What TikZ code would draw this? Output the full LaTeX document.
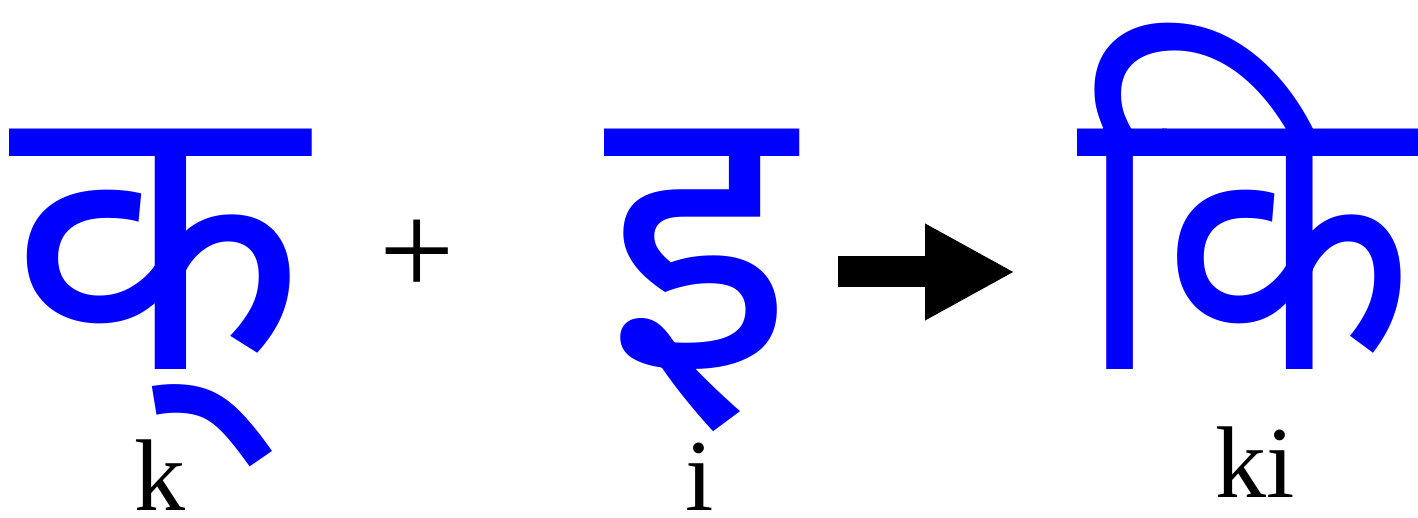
\documentclass[tikz,border=0pt]{standalone}
\usepackage{fontspec}
\setmainfont{Liberation Serif}
\newfontfamily\devafont[Script=Devanagari]{Noto Sans}
\usetikzlibrary{arrows.meta}

\begin{document}
\begin{tikzpicture}[
    deva/.style={text=blue, inner sep=0pt, anchor=base, text depth=0pt,
                 font=\devafont\fontsize{110}{110}\selectfont},
    latn/.style={text=black, inner sep=0pt, anchor=base, text depth=0pt,
                 font=\fontsize{29}{29}\selectfont},
    oper/.style={text=black, inner sep=0pt,
                 font=\fontsize{38}{38}\selectfont},
    fat/.style={line width=3.1mm, -{Triangle[length=9mm, width=9mm]}},
  ]
  \useasboundingbox (0,0) rectangle (14.18,5.18);

  % glyphs
  \node[deva] (ka) at (1.58,1.48) {क्};
  \node[deva] (i)  at (6.99,1.48) {इ};
  \node[deva, xscale=0.85, transform shape] (ki) at (12.46,1.48) {कि};

  % transliterations
  \node[latn] (kalbl) at (1.60,0.07) {k};
  \node[latn] (ilbl)  at (7.00,0.07) {i};
  \node[latn] (kilbl) at (12.55,0.20) {ki};

  % plus and arrow
  \node[oper] (plus) at (4.17,2.60) {+};
  \coordinate (arrs) at (8.38,2.46);
  \coordinate (arre) at (10.15,2.46);
  \draw[fat] (arrs) -- (arre);
\end{tikzpicture}
\end{document}
